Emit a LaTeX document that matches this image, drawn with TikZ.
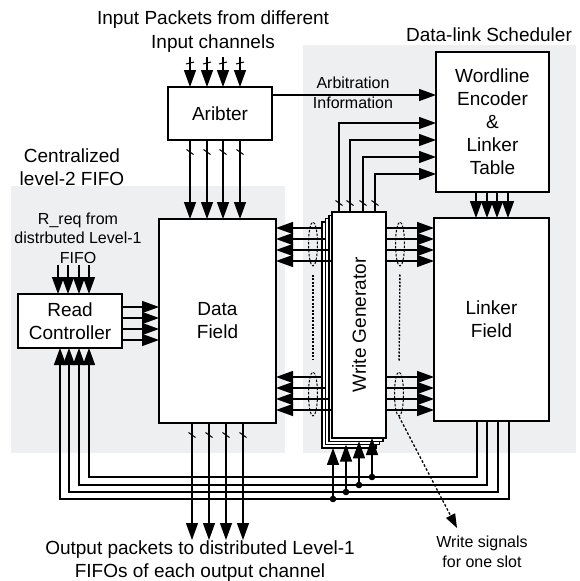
\documentclass[tikz,border=0pt]{standalone}
\usepackage{fontspec}
\setmainfont{Liberation Sans}
\usetikzlibrary{arrows.meta,calc,shapes.geometric}
\definecolor{bggray}{RGB}{238,239,241}
\newcommand\fsbig{\fontsize{19}{23}\selectfont}
\newcommand\fssmall{\fontsize{16}{19.5}\selectfont}
\begin{document}
\begin{tikzpicture}[x=1pt,y=-1pt,line width=1.3pt,
  box/.style={draw,line width=1.6pt,fill=white,inner sep=0pt,outer sep=0pt,align=center,font=\fsbig},
  arr/.style={-{Triangle[length=17pt,width=12pt]}},
  tick/.style={line width=1pt},
  lbl/.style={align=center,inner sep=0pt},
  dell/.style={ellipse,draw,dash pattern=on 2.5pt off 1.5pt,line width=1pt,inner sep=0pt,minimum width=9pt,minimum height=44pt},
  dotline/.style={dash pattern=on 2pt off 1.5pt,line width=1.4pt},
  dotarr/.style={dash pattern=on 2.5pt off 2pt,line width=1.3pt,-{Triangle[length=14pt,width=10pt]}}
]
\useasboundingbox (0,0) rectangle (580,581);
% backgrounds
\fill[bggray] (11,186) rectangle (285,453);
\fill[bggray] (303,45) rectangle (576,453);
% text labels
\node[lbl,font=\fsbig,text depth=0pt] (tin) at (213,30) {Input Packets from different\\[1pt]Input channels};
\node[lbl,font=\fsbig] (tdls) at (489,35) {Data-link Scheduler};
\node[lbl,font=\fsbig] (tcl) at (72,167) {Centralized\\level-2 FIFO};
\node[lbl,font=\fssmall] (treq) at (78,238) {R\_req from\\distrbuted Level-1\\FIFO};
\node[lbl,font=\fssmall] (tarb) at (353,93) {Arbitration\\[1pt]Information};
\node[lbl,font=\fsbig] (tout) at (200,561) {Output packets to distributed Level-1\\FIFOs of each output channel};
\node[lbl,font=\fssmall] (tws) at (482,552) {Write signals\\for one slot};
% boxes
\node[box,minimum width=104pt,minimum height=53pt] (ar) at (220,113.5) {Aribter};
\node[box,minimum width=113pt,minimum height=140pt] (enc) at (492.5,122) {Wordline\\Encoder\\\&\\Linker\\Table};
\node[box,minimum width=117pt,minimum height=204pt] (df) at (217.5,321) {Data\\Field};
\node[box,minimum width=104pt,minimum height=54pt] (rc) at (70,321) {Read\\Controller};
\node[box,minimum width=115pt,minimum height=203pt] (lf) at (491.5,319.5) {Linker\\Field};
% write generator stack
\node[box,minimum width=54pt,minimum height=226pt] (sh3) at (349.1,334.9) {};
\node[box,minimum width=54pt,minimum height=226pt] (sh2) at (352.4,331.6) {};
\node[box,minimum width=54pt,minimum height=226pt] (sh1) at (355.7,328.3) {};
\node[box,minimum width=54pt,minimum height=226pt] (wg) at (359,325) {};
\node[rotate=90,font=\fsbig,inner sep=0pt] (wgt) at (wg.center) {Write Generator};
% inputs to aribter
\foreach \x [count=\i] in {190,207,223,240} {
  \coordinate (in\i) at (\x,57);
  \draw[arr] (in\i) -- (ar.north -| in\i);
  \draw[tick] ($(in\i)+(-4,7)$) -- ($(in\i)+(4,5)$);
}
% aribter to data field
\foreach \x [count=\i] in {190,207,223,240} {
  \coordinate (ad\i) at (\x,152);
  \draw[arr] (ar.south -| ad\i) -- (df.north -| ad\i);
  \draw[tick] ($(ad\i)+(-3.5,-2.5)$) -- ($(ad\i)+(3.5,2.5)$);
}
% data field outputs
\foreach \x [count=\i] in {192,209,226,243} {
  \coordinate (out\i) at (\x,540);
  \draw[arr] (df.south -| out\i) -- (out\i);
  \draw[tick] ($(df.south -| out\i)+(-3.5,9.5)$) -- ++(7,5);
}
% arbitration information
\coordinate (ai) at (272,95);
\draw[arr] (ai) -- (enc.west |- ai);
% encoder to linker field
\foreach \x [count=\i] in {476,487,497,508} {
  \coordinate (el\i) at (\x,200);
  \draw[arr] (enc.south -| el\i) -- (lf.north -| el\i);
}
% write generator to encoder
\foreach \x/\y [count=\i] in {339/123,350/140,363/157,375/174} {
  \coordinate (we\i) at (\x,\y);
  \draw[arr] (wg.north -| we\i) -- (we\i) -- (enc.west |- we\i);
  \draw[tick] ($(wg.north -| we\i)+(-3.5,-11.5)$) -- ++(7,5);
}
% write generator to data field / linker field
\foreach \y/\s [count=\i] in {228/sh3,239/sh2,250/sh1,261/wg,377/sh3,388/sh2,399/sh1,410/wg} {
  \coordinate (h\i) at (300,\y);
  \draw[arr] (\s.west |- h\i) -- (df.east |- h\i);
  \draw[arr] (wg.east |- h\i) -- (lf.west |- h\i);
}
% dashed ellipses and dotted lines
\node[dell] (e1) at (313,244) {};
\node[dell] (e2) at (400,244) {};
\node[dell] (e3) at (313,394) {};
\node[dell] (e4) at (399,394) {};
\draw[dotline,shorten <=8pt,shorten >=12pt] (e1.south) -- (e3.north);
\draw[dotline,shorten <=8pt,shorten >=10pt] (e2.south) -- (e4.north);
% read controller
\foreach \x [count=\i] in {58,68,79,89} {
  \coordinate (rq\i) at (\x,265);
  \draw[arr] (rq\i) -- (rc.north -| rq\i);
}
\foreach \y [count=\i] in {307,318,329,340} {
  \coordinate (rd\i) at (140,\y);
  \draw[arr] (rc.east |- rd\i) -- (df.west |- rd\i);
}
% feedback loops
\foreach \rx/\lx/\yy/\dx/\s [count=\i] in {89/477/477/372/wg,79/487/485/359/sh1,69/498/492/346/sh2,60/509/499/333/sh3} {
  \coordinate (lp\i) at (\lx,\yy);
  \coordinate (rp\i) at (\rx,\yy);
  \coordinate (dp\i) at (\dx,\yy);
  \draw[arr] (lf.south -| lp\i) -- (lp\i) -- (rp\i) -- (rc.south -| rp\i);
  \draw[arr] (dp\i) -- (\s.south -| dp\i);
  \fill (dp\i) circle[radius=3.3pt];
}
% write signals
\coordinate (wsa) at (457,528);
\draw[dotarr] (e4.south) -- (wsa);
\end{tikzpicture}
\end{document}
